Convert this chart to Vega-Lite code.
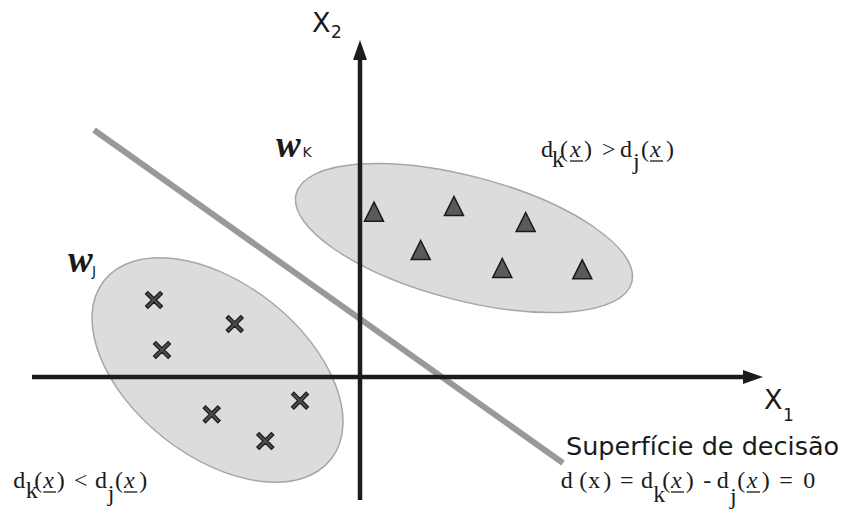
{
  "$schema": "https://vega.github.io/schema/vega-lite/v6.json",
  "width": 848,
  "height": 529,
  "autosize": {"type": "fit", "contains": "padding"},
  "padding": 0,
  "background": "white",
  "view": {"stroke": null},
  "datasets": {
    "ellipses": [
      {"cls": "K", "x": 104, "y": 139},
      {"cls": "J", "x": -142.5, "y": 7}
    ],
    "triangles": [
      {"x": 14, "y": 165.3}, {"x": 94, "y": 171}, {"x": 165.7, "y": 155},
      {"x": 60.7, "y": 127}, {"x": 142.3, "y": 109}, {"x": 222.3, "y": 107.7}
    ],
    "crosses": [
      {"x": -206, "y": 77}, {"x": -125.3, "y": 53}, {"x": -198, "y": 27},
      {"x": -60, "y": -23.7}, {"x": -148.3, "y": -37.3}, {"x": -94.7, "y": -64}
    ],
    "axes": [
      {"x": 0, "y": -123, "x2": 0, "y2": 319},
      {"x": -328, "y": 0, "x2": 385, "y2": 0}
    ],
    "arrowUp": [{"x": 0, "y": 327}],
    "arrowRight": [{"x": 393, "y": 0}],
    "boundary": [{"x": -266, "y": 247, "x2": 203, "y2": -86}],
    "sans": [
      {"r": "axis", "t": "X", "x": -48, "y": 345},
      {"r": "axis", "t": "X", "x": 404, "y": -32},
      {"r": "sub", "t": "2", "x": -29, "y": 339},
      {"r": "sub", "t": "1", "x": 423, "y": -44},
      {"r": "cls", "t": "K", "x": -57.5, "y": 220},
      {"r": "cls", "t": "J", "x": -268, "y": 101},
      {"r": "cap", "t": "Superfície de decisão", "x": 206, "y": -78}
    ],
    "wlabels": [
      {"t": "w", "x": -84, "y": 220},
      {"t": "w", "x": -292, "y": 105}
    ],
    "roman": [
      {"t": "d", "x": 181, "y": 220}, {"t": "k", "x": 192, "y": 210}, {"t": "(", "x": 200, "y": 220},
      {"t": ")", "x": 224, "y": 220}, {"t": ">", "x": 242, "y": 220}, {"t": "d", "x": 260, "y": 220},
      {"t": "j", "x": 273, "y": 208}, {"t": "(", "x": 281, "y": 220}, {"t": ")", "x": 306, "y": 220},
      {"t": "d", "x": -346.7, "y": -111}, {"t": "k", "x": -334.3, "y": -121}, {"t": "(", "x": -325.7, "y": -111},
      {"t": ")", "x": -303.3, "y": -111}, {"t": "<", "x": -286, "y": -111}, {"t": "d", "x": -265, "y": -111},
      {"t": "j", "x": -252.3, "y": -124}, {"t": "(", "x": -245, "y": -111}, {"t": ")", "x": -220.7, "y": -111},
      {"t": "d", "x": 200.7, "y": -111}, {"t": "(", "x": 219.3, "y": -111}, {"t": "x", "x": 228.3, "y": -111},
      {"t": ")", "x": 243.3, "y": -111}, {"t": "=", "x": 260, "y": -111}, {"t": "d", "x": 281, "y": -111},
      {"t": "k", "x": 293.3, "y": -125}, {"t": "(", "x": 302.3, "y": -111}, {"t": ")", "x": 325.7, "y": -111},
      {"t": "-", "x": 343.3, "y": -111}, {"t": "d", "x": 356.7, "y": -111}, {"t": "j", "x": 370, "y": -127},
      {"t": "(", "x": 377.3, "y": -111}, {"t": ")", "x": 401.7, "y": -111}, {"t": "=", "x": 419.3, "y": -111},
      {"t": "0", "x": 443.3, "y": -111}
    ],
    "italic": [
      {"t": "x", "x": 210, "y": 220, "x2": 223},
      {"t": "x", "x": 290, "y": 220, "x2": 303},
      {"t": "x", "x": -316.7, "y": -111, "x2": -304},
      {"t": "x", "x": -236, "y": -111, "x2": -222.7},
      {"t": "x", "x": 311, "y": -111, "x2": 324},
      {"t": "x", "x": 386.7, "y": -111, "x2": 400}
    ]
  },
  "encoding": {
    "x": {"field": "x", "type": "quantitative", "scale": {"domain": [-360, 488], "nice": false, "zero": false}, "axis": null},
    "y": {"field": "y", "type": "quantitative", "scale": {"domain": [-152, 377], "nice": false, "zero": false}, "axis": null}
  },
  "layer": [
    {
      "data": {"name": "ellipses"},
      "transform": [{"filter": "datum.cls === 'K'"}],
      "mark": {"type": "point", "filled": true, "opacity": 1, "fill": "#dcdcdc", "stroke": "#a6a6a6", "strokeWidth": 1.5, "size": 120409, "angle": 14.8,
        "shape": "M 1 0 C 1 0.197 0.5523 0.357 0 0.357 C -0.5523 0.357 -1 0.197 -1 0 C -1 -0.197 -0.5523 -0.357 0 -0.357 C 0.5523 -0.357 1 -0.197 1 0 Z"}
    },
    {
      "data": {"name": "ellipses"},
      "transform": [{"filter": "datum.cls === 'J'"}],
      "mark": {"type": "point", "filled": true, "opacity": 1, "fill": "#dcdcdc", "stroke": "#a6a6a6", "strokeWidth": 1.5, "size": 83405, "angle": 38.2,
        "shape": "M 1 0 C 1 0.331 0.5523 0.599 0 0.599 C -0.5523 0.599 -1 0.331 -1 0 C -1 -0.331 -0.5523 -0.599 0 -0.599 C 0.5523 -0.599 1 -0.331 1 0 Z"}
    },
    {
      "data": {"name": "triangles"},
      "mark": {"type": "point", "filled": true, "opacity": 1, "fill": "#5a5a5a", "stroke": "#1a1a1a", "strokeWidth": 1.5, "size": 361,
        "shape": "M 0 -1 L 1 1 L -1 1 Z"}
    },
    {
      "data": {"name": "crosses"},
      "mark": {"type": "point", "filled": true, "opacity": 1, "fill": "#4d4d4d", "stroke": "#1a1a1a", "strokeWidth": 1.2, "size": 289,
        "shape": "M -1 -0.72 L -0.72 -1 L 0 -0.28 L 0.72 -1 L 1 -0.72 L 0.28 0 L 1 0.72 L 0.72 1 L 0 0.28 L -0.72 1 L -1 0.72 L -0.28 0 Z"}
    },
    {
      "data": {"name": "boundary"},
      "mark": {"type": "rule", "color": "#999999", "strokeWidth": 6, "strokeCap": "butt"},
      "encoding": {"x2": {"field": "x2"}, "y2": {"field": "y2"}}
    },
    {
      "data": {"name": "axes"},
      "mark": {"type": "rule", "color": "#1f1b18", "strokeWidth": 4.5, "strokeCap": "butt"},
      "encoding": {"x2": {"field": "x2"}, "y2": {"field": "y2"}}
    },
    {
      "data": {"name": "arrowUp"},
      "mark": {"type": "point", "filled": true, "opacity": 1, "fill": "#1f1b18", "strokeWidth": 0, "size": 400,
        "shape": "M 0 -1 L 0.7 1 L -0.7 1 Z"}
    },
    {
      "data": {"name": "arrowRight"},
      "mark": {"type": "point", "filled": true, "opacity": 1, "fill": "#1f1b18", "strokeWidth": 0, "size": 400,
        "shape": "M 1 0 L -1 0.7 L -1 -0.7 Z"}
    },
    {
      "data": {"name": "sans"},
      "transform": [{"filter": "datum.r === 'axis'"}],
      "mark": {"type": "text", "align": "left", "baseline": "alphabetic", "font": "DejaVu Sans", "fontSize": 27, "color": "#1a1a1a"},
      "encoding": {"text": {"field": "t"}}
    },
    {
      "data": {"name": "sans"},
      "transform": [{"filter": "datum.r === 'sub'"}],
      "mark": {"type": "text", "align": "left", "baseline": "alphabetic", "font": "DejaVu Sans", "fontSize": 17, "color": "#1a1a1a"},
      "encoding": {"text": {"field": "t"}}
    },
    {
      "data": {"name": "sans"},
      "transform": [{"filter": "datum.r === 'cls'"}],
      "mark": {"type": "text", "align": "left", "baseline": "alphabetic", "font": "DejaVu Sans", "fontSize": 14, "color": "#1a1a1a"},
      "encoding": {"text": {"field": "t"}}
    },
    {
      "data": {"name": "sans"},
      "transform": [{"filter": "datum.r === 'cap'"}],
      "mark": {"type": "text", "align": "left", "baseline": "alphabetic", "font": "DejaVu Sans", "fontSize": 25.5, "color": "#1a1a1a"},
      "encoding": {"text": {"field": "t"}}
    },
    {
      "data": {"name": "wlabels"},
      "mark": {"type": "text", "align": "left", "baseline": "alphabetic", "font": "Liberation Serif, Times New Roman, serif", "fontSize": 37, "fontStyle": "italic", "fontWeight": "bold", "color": "#1a1a1a"},
      "encoding": {"text": {"field": "t"}}
    },
    {
      "data": {"name": "roman"},
      "mark": {"type": "text", "align": "left", "baseline": "alphabetic", "font": "Liberation Serif, Times New Roman, serif", "fontSize": 24, "color": "#1a1a1a"},
      "encoding": {"text": {"field": "t"}}
    },
    {
      "data": {"name": "italic"},
      "mark": {"type": "text", "align": "left", "baseline": "alphabetic", "font": "Liberation Serif, Times New Roman, serif", "fontSize": 24, "fontStyle": "italic", "color": "#1a1a1a"},
      "encoding": {"text": {"field": "t"}}
    },
    {
      "data": {"name": "italic"},
      "mark": {"type": "rule", "color": "#1a1a1a", "strokeWidth": 1.3, "yOffset": 4},
      "encoding": {"x2": {"field": "x2"}}
    }
  ]
}
